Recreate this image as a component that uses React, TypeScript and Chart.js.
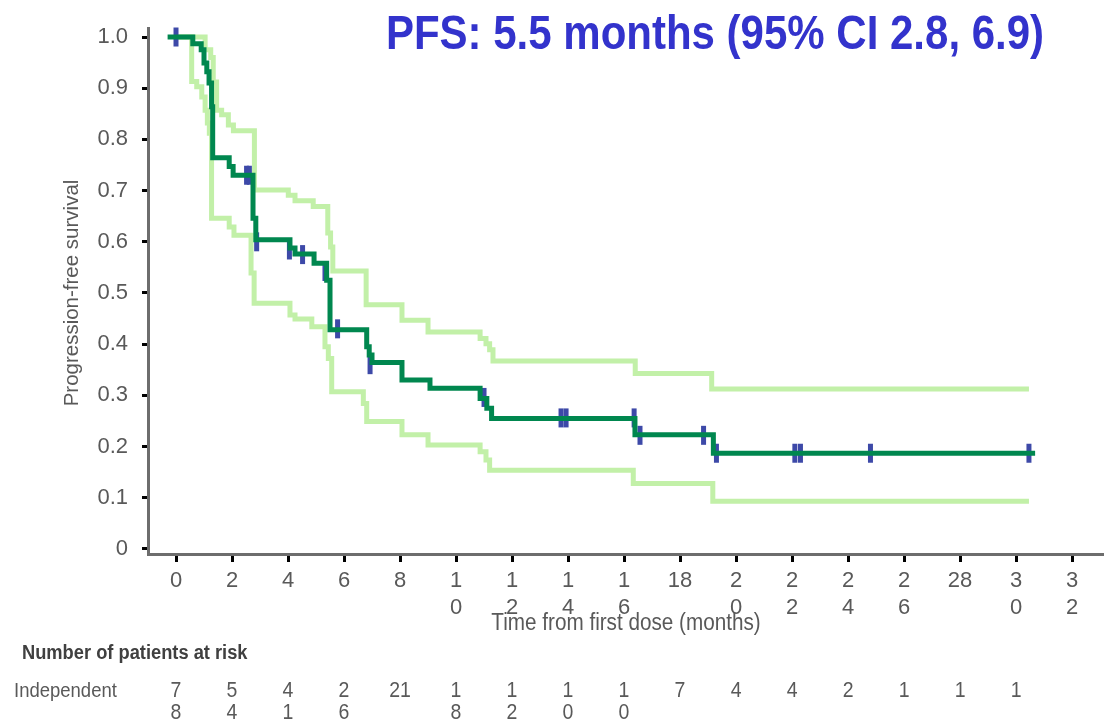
import React, { useEffect, useRef } from "react";
import { Chart, registerables } from "chart.js";

Chart.register(...registerables);

// ---- Data ----
const kmTimes = [-0.3, 0.6, 0.9, 1.0, 1.1, 1.18, 1.27, 1.31, 1.9, 2.04, 2.75, 2.85, 4.07, 4.25, 4.93, 5.38, 5.5, 6.81, 6.9, 7.0, 8.07, 9.07, 10.86, 11.1, 11.27, 16.39, 19.19, 30.68];
const kmSurv = [1.0, 0.987, 0.975, 0.949, 0.932, 0.91, 0.864, 0.764, 0.747, 0.73, 0.646, 0.604, 0.588, 0.576, 0.558, 0.525, 0.428, 0.395, 0.379, 0.364, 0.33, 0.314, 0.294, 0.275, 0.255, 0.223, 0.187, 0.187];

const upperTimes = [0, 1.04, 1.24, 1.33, 1.45, 1.63, 1.87, 2.05, 2.8, 4.01, 4.25, 4.9, 5.42, 5.52, 5.6, 6.79, 8.07, 9.0, 10.86, 11.07, 11.2, 11.32, 16.4, 19.13, 30.46];
const upperSurv = [1.0, 0.975, 0.96, 0.912, 0.857, 0.848, 0.828, 0.817, 0.701, 0.691, 0.68, 0.669, 0.617, 0.59, 0.543, 0.477, 0.447, 0.424, 0.411, 0.401, 0.389, 0.367, 0.343, 0.3125, 0.3125];

const lowerTimes = [0, 0.56, 0.74, 0.92, 1.04, 1.12, 1.19, 1.27, 1.9, 2.07, 2.68, 2.79, 4.07, 4.25, 4.85, 5.32, 5.44, 5.56, 6.69, 6.81, 8.07, 9.0, 10.86, 11.07, 11.2, 16.33, 19.17, 30.46];
const lowerSurv = [1.0, 0.913, 0.903, 0.883, 0.857, 0.832, 0.812, 0.646, 0.629, 0.613, 0.539, 0.48, 0.457, 0.449, 0.434, 0.395, 0.372, 0.307, 0.284, 0.249, 0.223, 0.203, 0.19, 0.174, 0.154, 0.128, 0.093, 0.093];

const censorTimes = [0, 2.52, 2.62, 2.88, 4.05, 4.52, 5.32, 5.77, 6.93, 11.0, 13.75, 13.93, 16.36, 16.57, 18.84, 19.3, 22.1, 22.3, 24.8, 30.46];
const censorSurv = [1.0, 0.73, 0.73, 0.6, 0.584, 0.575, 0.542, 0.43, 0.36, 0.296, 0.256, 0.256, 0.256, 0.222, 0.222, 0.187, 0.187, 0.187, 0.187, 0.187];

const xTickValues = [0, 2, 4, 6, 8, 10, 12, 14, 16, 18, 20, 22, 24, 26, 28, 30, 32];
const xTickLabels = ["0", "2", "4", "6", "8", "1\n0", "1\n2", "1\n4", "1\n6", "18", "2\n0", "2\n2", "2\n4", "2\n6", "28", "3\n0", "3\n2"];
const yTickValues = [0, 0.1, 0.2, 0.3, 0.4, 0.5, 0.6, 0.7, 0.8, 0.9, 1.0];
const yTickLabels = ["0", "0.1", "0.2", "0.3", "0.4", "0.5", "0.6", "0.7", "0.8", "0.9", "1.0"];

const riskTimes = [0, 2, 4, 6, 8, 10, 12, 14, 16, 18, 20, 22, 24, 26, 28, 30];
const riskCounts = [78, 54, 41, 26, 21, 18, 12, 10, 10, 7, 4, 4, 2, 1, 1, 1];
const riskWrapped = [true, true, true, true, false, true, true, true, true, false, false, false, false, false, false, false];

const titleText = "PFS: 5.5 months (95% CI 2.8, 6.9)";
const yTitle = "Progression-free survival";
const xTitle = "Time from first dose (months)";
const riskHeader = "Number of patients at risk";
const riskGroup = "Independent";

const FONT = "'Liberation Sans', Arial, Helvetica, sans-serif";
const GRAY = "#595959";

function toPoints(xs: number[], ys: number[]) {
  return xs.map((x, i) => ({ x, y: ys[i] }));
}

function drawStretched(
  ctx: CanvasRenderingContext2D,
  text: string,
  x: number,
  y: number,
  font: string,
  color: string,
  align: CanvasTextAlign,
  sy: number
) {
  ctx.save();
  ctx.font = font;
  ctx.fillStyle = color;
  ctx.textAlign = align;
  ctx.textBaseline = "alphabetic";
  ctx.translate(x, y);
  ctx.scale(1, sy);
  ctx.fillText(text, 0, 0);
  ctx.restore();
}

const textPlugin = {
  id: "extraText",
  afterDraw(chart: any) {
    const ctx: CanvasRenderingContext2D = chart.ctx;
    const xs = chart.scales.x;
    // Title
    drawStretched(ctx, titleText, 715, 49, `bold 42px ${FONT}`, "#3333cc", "center", 1.15);
    // Y axis title
    ctx.save();
    ctx.font = `20.5px ${FONT}`;
    ctx.fillStyle = GRAY;
    ctx.textAlign = "center";
    ctx.textBaseline = "middle";
    ctx.translate(72, 293);
    ctx.rotate(-Math.PI / 2);
    ctx.fillText(yTitle, 0, 0);
    ctx.restore();
    // X axis title
    drawStretched(ctx, xTitle, (chart.chartArea.left + chart.chartArea.right) / 2, 630, `20.7px ${FONT}`, GRAY, "center", 1.15);
    // Risk table
    drawStretched(ctx, riskHeader, 22, 659, `bold 18.3px ${FONT}`, "#404040", "left", 1.12);
    drawStretched(ctx, riskGroup, 14, 697, `18.5px ${FONT}`, GRAY, "left", 1.12);
    riskTimes.forEach((t, i) => {
      const px = xs.getPixelForValue(t);
      const s = String(riskCounts[i]);
      const lines = riskWrapped[i] ? s.split("") : [s];
      lines.forEach((ln, j) => {
        drawStretched(ctx, ln, px, 697 + j * 22, `19.5px ${FONT}`, GRAY, "center", 1.12);
      });
    });
  },
};

export default function App() {
  const ref = useRef<HTMLCanvasElement | null>(null);

  useEffect(() => {
    if (!ref.current) return;
    const lineCommon = {
      type: "line" as const,
      pointRadius: 0,
      pointHoverRadius: 0,
      stepped: "before" as const,
      fill: false,
      borderCapStyle: "butt" as const,
      borderJoinStyle: "miter" as const,
      tension: 0,
    };
    const chart = new Chart(ref.current, {
      type: "line",
      data: {
        datasets: [
          {
            ...lineCommon,
            label: "PFS",
            data: toPoints(kmTimes, kmSurv),
            borderColor: "#00874f",
            borderWidth: 5,
            order: 0,
          },
          {
            type: "scatter",
            label: "Censored",
            data: toPoints(censorTimes, censorSurv),
            pointStyle: "line",
            rotation: 90,
            pointRadius: 9.5,
            pointHoverRadius: 9.5,
            pointBorderWidth: 5,
            borderColor: "#3d49a8",
            backgroundColor: "#3d49a8",
            showLine: false,
            clip: false,
            order: 1,
          } as any,
          {
            ...lineCommon,
            label: "Upper 95% CI",
            data: toPoints(upperTimes, upperSurv),
            borderColor: "#c2f0a8",
            borderWidth: 5,
            order: 2,
          },
          {
            ...lineCommon,
            label: "Lower 95% CI",
            data: toPoints(lowerTimes, lowerSurv),
            borderColor: "#c2f0a8",
            borderWidth: 5,
            order: 2,
          },
        ],
      },
      options: {
        responsive: false,
        animation: false,
        events: [],
        layout: { autoPadding: false, padding: { top: 28, left: 0, right: 0, bottom: 0 } },
        plugins: {
          legend: { display: false },
          tooltip: { enabled: false },
          title: { display: false },
        },
        scales: {
          x: {
            type: "linear",
            min: -1,
            max: 33.14,
            afterBuildTicks: (scale: any) => {
              scale.ticks = xTickValues.map((v) => ({ value: v }));
            },
            afterFit: (scale: any) => {
              scale.height = 170;
              scale.paddingLeft = 0;
              scale.paddingRight = 0;
            },
            grid: {
              drawOnChartArea: false,
              color: "#000000",
              tickLength: 8,
              tickWidth: 3,
            },
            border: { color: "#6d6d6d", width: 3 },
            ticks: {
              autoSkip: false,
              maxRotation: 0,
              minRotation: 0,
              padding: 6,
              color: GRAY,
              font: { family: FONT, size: 22, lineHeight: 1.22 },
              callback: (value: any) => {
                const i = xTickValues.indexOf(Number(value));
                return i >= 0 ? xTickLabels[i].split("\n") : "";
              },
            },
          },
          y: {
            type: "linear",
            min: -0.0098,
            max: 1.0176,
            afterBuildTicks: (scale: any) => {
              scale.ticks = yTickValues.map((v) => ({ value: v }));
            },
            afterFit: (scale: any) => {
              scale.width = 148;
              scale.paddingTop = 0;
              scale.paddingBottom = 0;
            },
            grid: {
              drawOnChartArea: false,
              color: "#000000",
              tickLength: 6,
              tickWidth: 3,
            },
            border: { color: "#6d6d6d", width: 3 },
            ticks: {
              autoSkip: false,
              padding: 14,
              color: GRAY,
              font: { family: FONT, size: 22 },
              callback: (value: any) => {
                const i = yTickValues.findIndex((v) => Math.abs(v - Number(value)) < 1e-9);
                return i >= 0 ? yTickLabels[i] : "";
              },
            },
          },
        },
      },
      plugins: [textPlugin],
    });
    return () => chart.destroy();
  }, []);

  return (
    <div style={{ position: "absolute", left: 0, top: 0, width: 1104, height: 724, background: "#ffffff" }}>
      <canvas ref={ref} width={1104} height={724} style={{ display: "block", width: 1104, height: 724 }} />
    </div>
  );
}
